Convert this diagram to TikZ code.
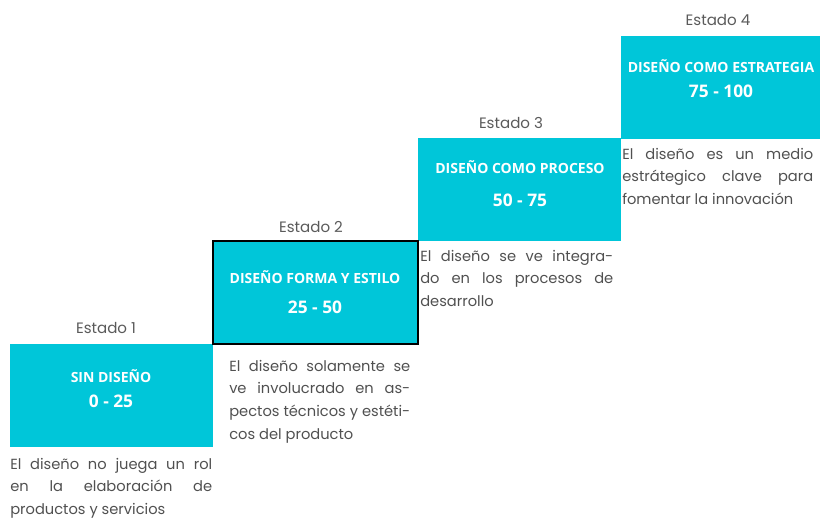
\documentclass[tikz,border=0pt]{standalone}
\usepackage{fontspec}
\newfontfamily\titlefont{Open Sans}
\newfontfamily\gothic{Poppins}
\definecolor{stepcyan}{RGB}{0,198,217}
\definecolor{ink}{RGB}{80,80,80}
\definecolor{soft}{RGB}{90,90,90}
\usepackage{tikz}
\tolerance=9999
\hyphenpenalty=10000
\tikzset{
  stepbox/.style={fill=stepcyan, inner sep=0pt, outer sep=0pt, anchor=north west,
              minimum height=77.25pt},
  steptitle/.style={anchor=base, inner sep=0pt, text=white,
              font=\titlefont\bfseries\fontsize{10.5}{12}\selectfont},
  steprange/.style={anchor=base, inner sep=0pt, text=white,
              font=\titlefont\bfseries\fontsize{13}{15}\selectfont},
  estado/.style={anchor=base, inner sep=0pt, text=soft,
              font=\gothic\fontsize{11.3}{13}\selectfont},
  stepnote/.style={anchor=base west, inner sep=0pt, align=justify, text=ink,
              font=\gothic\fontsize{11}{17.1}\selectfont},
}

\begin{document}
\begin{tikzpicture}[x=0.75pt,y=-0.75pt]
    \useasboundingbox (0,0) rectangle (820,521);
    % the four steps, the second one framed last
    \node[stepbox,minimum width=152.25pt] (s1) at (10,344) {};
    \node[stepbox,minimum width=152.25pt] (s3) at (418,138) {};
    \node[stepbox,minimum width=149.25pt] (s4) at (621,36) {};
    \node[stepbox,minimum width=153.75pt,draw=black,line width=1.6pt] (s2) at (213,241) {};
    \node[estado] (e1) at (106,333) {Estado 1};
    \node[estado] (e2) at (311,232) {Estado 2};
    \node[estado] (e3) at (511,128) {Estado 3};
    \node[estado] (e4) at (718,26)  {Estado 4};
    \node[steptitle] (t1) at (111,382) {SIN DISEÑO};
    \node[steprange] (r1) at (111,407) {0 - 25};
    \node[steptitle] (t2) at (315,283) {DISEÑO FORMA Y ESTILO};
    \node[steprange] (r2) at (315,313) {25 - 50};
    \node[steptitle] (t3) at (520,173) {DISEÑO COMO PROCESO};
    \node[steprange] (r3) at (520,206) {50 - 75};
    \node[steptitle] (t4) at (721,72)  {DISEÑO COMO ESTRATEGIA};
    \node[steprange] (r4) at (721,97)  {75 - 100};
    \node[stepnote,text width=151.5pt] (d1) at (10,469)
      {El diseño no juega un rol\linebreak en la elaboración de\linebreak productos y servicios};
    \node[stepnote,text width=135.75pt] (d2) at (229,371)
      {El diseño solamente se\linebreak ve involucrado en as-\linebreak pectos técnicos y estéti-\linebreak cos del producto};
    \node[stepnote,text width=144.75pt] (d3) at (420,261)
      {El diseño se ve integra-\linebreak do en los procesos de\linebreak desarrollo};
    \node[stepnote,text width=143.25pt] (d4) at (622,159)
      {El diseño es un medio\linebreak estrátegico clave para\linebreak fomentar la innovación};
\end{tikzpicture}
\end{document}
